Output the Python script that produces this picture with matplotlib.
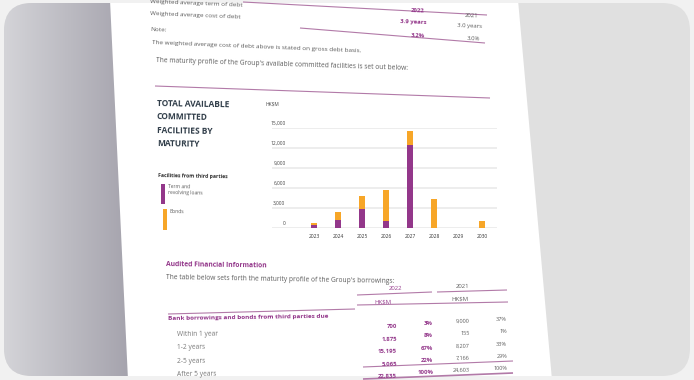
import numpy as np
import matplotlib.pyplot as plt
from matplotlib.patches import FancyBboxPatch, Polygon, Rectangle
from matplotlib.colors import LinearSegmentedColormap

plt.rcParams['font.family'] = ['Open Sans', 'DejaVu Sans']

# chart data (HK$M)
years = ['2023', '2024', '2025', '2026', '2027', '2028', '2029', '2030']
term_loans = [450, 1250, 2900, 1050, 12400, 0, 0, 0]
bonds = [250, 1100, 1900, 4650, 2200, 4400, 0, 1000]
y_ticks = [0, 3000, 6000, 9000, 12000, 15000]

# borrowings table on the page
row_labels = ['Within 1 year', '1-2 years', '2-5 years', 'After 5 years']
amount_2022 = ['700', '1,875', '15,195', '5,065', '22,835']
share_2022 = ['3%', '8%', '67%', '22%', '100%']
amount_2021 = ['9,000', '155', '8,207', '7,166', '24,603']
share_2021 = ['37%', '1%', '33%', '29%', '100%']

PURPLE = '#93378a'
ORANGE = '#f7a628'
TEXT = '#5c5c5c'
RULE = '#b27aa8'
TITLE = '#2f3c48'

fig = plt.figure(figsize=(6.94, 3.80), dpi=100)
fig.patch.set_facecolor('#f1f1f1')

# background "photo": rounded card, grey gradient on the left, white page
bg = fig.add_axes([0, 0, 1, 1])
card = FancyBboxPatch((4, 3), 686, 373, boxstyle='round,pad=0,rounding_size=28',
                      fc='#e0e0e0', ec='none', zorder=1)
bg.add_patch(card)
grad = np.linspace(0, 1, 256).reshape(1, -1)
cmap = LinearSegmentedColormap.from_list('shade', ['#d4d4d8', '#a4a2ac'])
im = bg.imshow(grad, cmap=cmap, extent=(4, 132, 376, 3), aspect='auto', zorder=2)
im.set_clip_path(card)
page = Polygon([(110, 0), (518, 0), (552, 380), (128, 380)], closed=True,
               fc='white', ec='none', zorder=3)
bg.add_patch(page)
page.set_clip_path(card)
bg.set_xlim(0, 694)
bg.set_ylim(380, 0)
bg.axis('off')


def put(x, y, s, rot=-2.0, size=4.6, color=TEXT, ha='left', weight='normal'):
    bg.text(x, y, s, rotation=rot, rotation_mode='anchor', ha=ha, va='baseline',
            fontsize=size, color=color, fontweight=weight, clip_on=True, zorder=5)


def rule(x0, y0, x1, y1, lw=0.8):
    bg.plot([x0, x1], [y0, y1], color=RULE, lw=lw, solid_capstyle='butt', zorder=4)


# top of page
put(150, 3, 'Weighted average term of debt', rot=-2.3)
put(150, 15, 'Weighted average cost of debt', rot=-2.3)
rule(243, 2, 487, 15)
put(418, 12, '2022', ha='center', color=PURPLE, weight='bold', size=4.3, rot=-2.3)
put(472, 17, '2021', ha='center', size=4.3, rot=-2.3)
put(413, 24, '3.9 years', ha='center', color=PURPLE, weight='bold', size=4.3, rot=-2.3)
put(470, 28, '3.0 years', ha='center', size=4.3, rot=-2.3)
put(418, 37, '3.2%', ha='center', color=PURPLE, weight='bold', size=4.3, rot=-2.3)
put(473, 40, '3.0%', ha='center', size=4.3, rot=-2.3)
rule(300, 28, 485, 43)
put(150, 31, 'Note:', rot=-2.3)
put(152, 44, 'The weighted average cost of debt above is stated on gross debt basis.', rot=-2.3)
put(156, 62, "The maturity profile of the Group's available committed facilities is set out below:",
    rot=-1.8, size=4.8)
rule(155, 86, 490, 98)

# chart title and legend
for i, line in enumerate(['TOTAL AVAILABLE', 'COMMITTED', 'FACILITIES BY', 'MATURITY']):
    put(157, 106 + 13.3 * i, line, rot=-1.0, size=6.0, color=TITLE, weight='bold')
put(158, 177, 'Facilities from third parties', rot=-1.0, size=3.7, color='#333333', weight='bold')
bg.add_patch(Rectangle((161, 184), 4.5, 20, fc=PURPLE, ec='none', zorder=5))
put(168, 188, 'Term and', rot=-1.0, size=3.6)
put(168, 194, 'revolving loans', rot=-1.0, size=3.6)
bg.add_patch(Rectangle((163, 209), 4.5, 21, fc=ORANGE, ec='none', zorder=5))
put(170, 213, 'Bonds', rot=-1.0, size=3.6)

# bar chart
ax = fig.add_axes([272 / 694, (380 - 228) / 380, 225 / 694, 100 / 380])
ax.set_facecolor('none')
x = np.arange(len(years))
ax.bar(x, term_loans, width=0.28, color=PURPLE, zorder=2)
ax.bar(x, bonds, bottom=term_loans, width=0.28, color=ORANGE, zorder=2)
for v in y_ticks:
    ax.axhline(v, color='#e8e8e8', lw=1.1, zorder=0)
    ax.text(0.06, v + 350, f'{v:,}', transform=ax.get_yaxis_transform(),
            ha='right', va='bottom', fontsize=3.5, color='#444444')
ax.set_xlim(-1.75, 7.625)
ax.set_ylim(0, 15000)
ax.set_yticks([])
ax.set_xticks(x, years, fontsize=3.5, color='#333333')
ax.tick_params(axis='x', length=0, pad=4)
for s in ax.spines.values():
    s.set_visible(False)
ax.text(-0.03, 1.22, 'HK$M', transform=ax.transAxes, fontsize=3.5, color='#444444',
        ha='left', va='bottom')

# lower section: borrowings table
put(166, 266, 'Audited Financial Information', rot=-0.8, size=4.9, color=PURPLE, weight='bold')
put(166, 279, "The table below sets forth the maturity profile of the Group's borrowings:",
    rot=-1.0, size=4.8)
put(395, 290, '2022', ha='center', color=PURPLE, size=4.3, rot=0.5)
put(463, 288, '2021', ha='center', size=4.3, rot=0.5)
rule(357, 295, 432, 292)
rule(437, 292, 507, 290)
put(383, 303, 'HK$M', ha='center', color=PURPLE, size=4.3, rot=0.5)
put(460, 300, 'HK$M', ha='center', size=4.3, rot=0.5)
rule(357, 305, 508, 302)
rule(168, 314, 355, 309)
put(168, 320, 'Bank borrowings and bonds from third parties due', rot=0.8, size=4.6,
    color=PURPLE, weight='bold')
for i, lab in enumerate(row_labels):
    put(177, 336 + 13.5 * i, lab, rot=0.5, size=4.8, color='#777777')
for i in range(len(amount_2022)):
    put(397, 328 + 12.5 * i, amount_2022[i], ha='right', color=PURPLE, weight='bold', size=4.3, rot=0.8)
    put(433, 325 + 12.3 * i, share_2022[i], ha='right', color=PURPLE, weight='bold', size=4.3, rot=0.8)
    put(470, 323 + 12.2 * i, amount_2021[i], ha='right', size=4.0, rot=0.8)
    put(507, 321 + 12.2 * i, share_2021[i], ha='right', size=4.0, rot=0.8)
rule(363, 367, 513, 361)
rule(363, 379, 513, 373, lw=1.2)

fig.savefig('out.png', dpi=100, facecolor=fig.get_facecolor())
